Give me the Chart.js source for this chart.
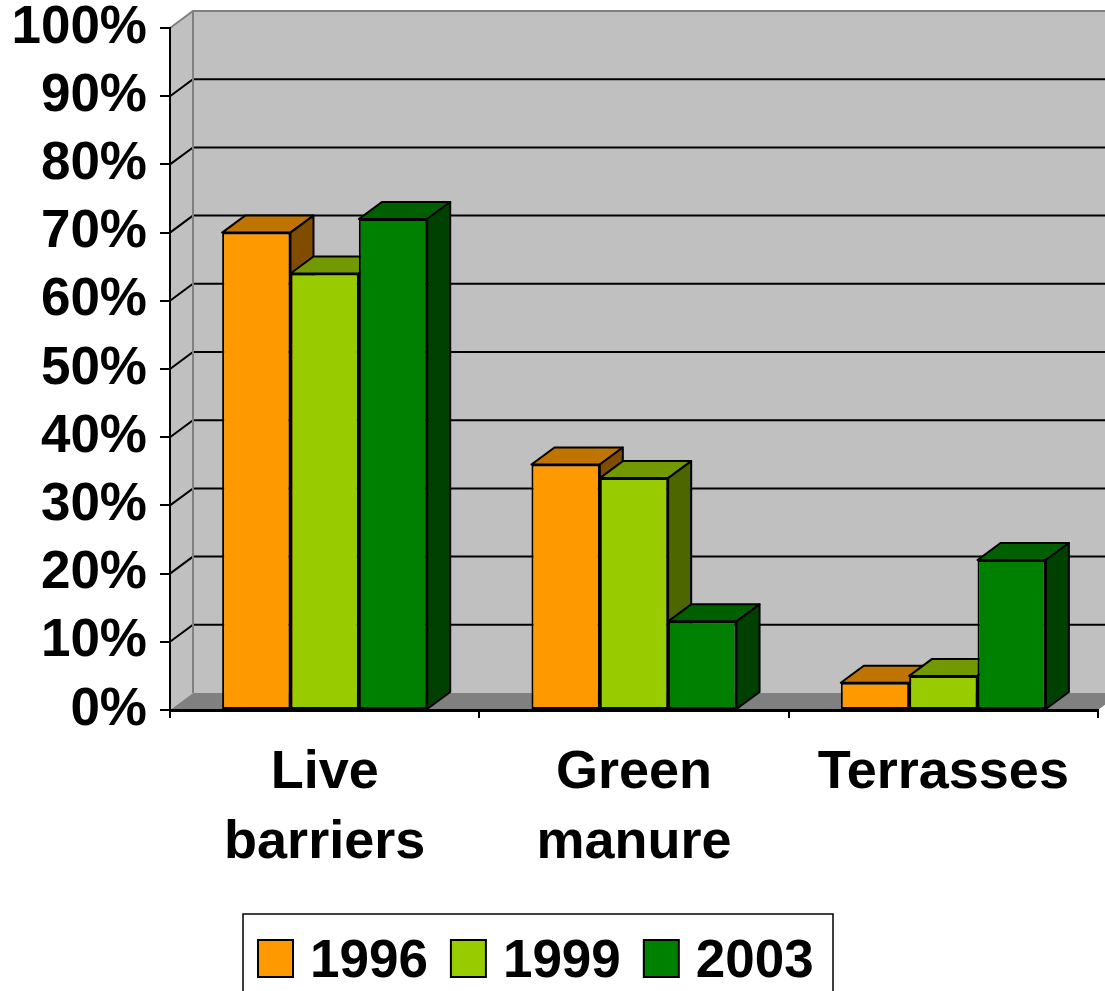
<!DOCTYPE html>
<html lang="en">
<head>
  <meta charset="UTF-8">
  <title>Soil conservation practices</title>
  <script src="https://cdn.jsdelivr.net/npm/chart.js"></script>
  <style>
    html, body { margin: 0; padding: 0; background: #fff; }
  </style>
</head>
<body>
  <canvas id="myChart" width="1105" height="991"></canvas>

  <script>
    // data
    const categories = [['Live', 'barriers'], ['Green', 'manure'], 'Terrasses'];
    const years = ['1996', '1999', '2003'];
    const values1996 = [70, 36, 4];
    const values1999 = [64, 34, 5];
    const values2003 = [72, 13, 22];

    // colours: front, top, side
    const frontColors = ['#ff9900', '#99cc00', '#008000'];
    const topColors = ['#bf7300', '#739900', '#006000'];
    const sideColors = ['#804d00', '#4d6600', '#004000'];

    const DX = 23, DY = -17;   // depth offset of the 3d box
    const FONT = 'Arial, "Liberation Sans", sans-serif';

    function poly(ctx, pts, fill, stroke, lw) {
      ctx.beginPath();
      ctx.moveTo(pts[0][0], pts[0][1]);
      for (let i = 1; i < pts.length; i++) ctx.lineTo(pts[i][0], pts[i][1]);
      ctx.closePath();
      if (fill) { ctx.fillStyle = fill; ctx.fill(); }
      if (stroke) { ctx.strokeStyle = stroke; ctx.lineWidth = lw || 1; ctx.stroke(); }
    }

    // walls, floor and gridlines behind everything
    const walls3d = {
      id: 'walls3d',
      beforeDraw(chart) {
        const { ctx, chartArea: a, scales: { y } } = chart;
        const y0 = y.getPixelForValue(0);
        const y1 = y.getPixelForValue(100);
        ctx.save();
        // back wall
        poly(ctx, [[a.left + DX, y1 + DY], [a.right + DX, y1 + DY], [a.right + DX, y0 + DY], [a.left + DX, y0 + DY]], '#c0c0c0');
        // left wall
        poly(ctx, [[a.left, y1], [a.left + DX, y1 + DY], [a.left + DX, y0 + DY], [a.left, y0]], '#c0c0c0');
        // floor
        poly(ctx, [[a.left, y0], [a.left + DX, y0 + DY], [a.right + DX, y0 + DY], [a.right, y0]], '#808080');

        // gridlines
        ctx.strokeStyle = '#000';
        ctx.lineWidth = 2;
        y.ticks.forEach(t => {
          if (t.value <= 0 || t.value >= 100) return;
          const py = y.getPixelForValue(t.value);
          ctx.beginPath();
          ctx.moveTo(a.left, py);
          ctx.lineTo(a.left + DX, py + DY);
          ctx.lineTo(a.right + DX, py + DY);
          ctx.stroke();
        });

        // wall edges
        ctx.strokeStyle = '#808080';
        ctx.lineWidth = 2;
        ctx.beginPath();
        ctx.moveTo(a.left, y1);
        ctx.lineTo(a.left + DX, y1 + DY);
        ctx.lineTo(a.right + DX, y1 + DY);
        ctx.moveTo(a.left + DX, y1 + DY);
        ctx.lineTo(a.left + DX, y0 + DY);
        ctx.stroke();
        ctx.restore();
      },
      // tops and sides of the bars, fronts are drawn by chart.js after this
      beforeDatasetsDraw(chart) {
        const ctx = chart.ctx;
        const metas = chart.getSortedVisibleDatasetMetas();
        ctx.save();
        ctx.lineJoin = 'round';
        for (let i = 0; i < categories.length; i++) {
          metas.forEach((meta, d) => {
            const p = meta.data[i].getProps(['x', 'y', 'base', 'width'], true);
            const l = p.x - p.width / 2, r = p.x + p.width / 2;
            poly(ctx, [[l, p.y], [l + DX, p.y + DY], [r + DX, p.y + DY], [r, p.y]], topColors[d], '#000', 2);
            poly(ctx, [[r, p.y], [r + DX, p.y + DY], [r + DX, p.base + DY], [r, p.base]], sideColors[d], '#000', 2);
          });
        }
        ctx.restore();
      },
      // legend in a frame, drawn by hand so the spacing matches
      afterDraw(chart) {
        const ctx = chart.ctx;
        ctx.save();
        ctx.strokeStyle = '#000';
        ctx.lineWidth = 1.5;
        ctx.strokeRect(243, 914, 590, 120);
        ctx.font = 'bold 53px ' + FONT;
        ctx.textBaseline = 'alphabetic';
        ctx.textAlign = 'left';
        let sx = 258;
        chart.data.datasets.forEach((ds, i) => {
          ctx.fillStyle = ds.backgroundColor;
          ctx.fillRect(sx, 940, 35, 37);
          ctx.lineWidth = 2;
          ctx.strokeRect(sx, 940, 35, 37);
          ctx.fillStyle = '#000';
          ctx.fillText(ds.label, sx + 52, 977);
          sx += 52 + ctx.measureText(ds.label).width + 23;
        });
        ctx.restore();
      }
    };

    const ctx = document.getElementById('myChart').getContext('2d');
    new Chart(ctx, {
      type: 'bar',
      data: {
        labels: categories,
        datasets: [
          { label: years[0], data: values1996 },
          { label: years[1], data: values1999 },
          { label: years[2], data: values2003 }
        ].map((ds, i) => Object.assign(ds, {
          backgroundColor: frontColors[i],
          borderColor: '#000',
          borderWidth: 2,
          borderSkipped: false,
          barPercentage: 1,
          categoryPercentage: 0.663
        }))
      },
      options: {
        responsive: false,
        animation: false,
        devicePixelRatio: 1,
        layout: { padding: { left: 0, right: 7, top: 28, bottom: 78 } },
        scales: {
          x: {
            grid: { offset: true, drawOnChartArea: false, tickLength: 8, color: '#000', lineWidth: 2 },
            border: { display: true, color: '#000', width: 3 },
            ticks: {
              color: '#000',
              padding: 20,
              maxRotation: 0,
              autoSkip: false,
              font: { family: FONT, size: 54, weight: 'bold', lineHeight: 1.3 }
            },
            afterFit(scale) {
              scale.height = 203;
              scale.paddingLeft = 0;
              scale.paddingRight = 0;
            }
          },
          y: {
            min: 0,
            max: 100,
            grid: { drawOnChartArea: false, tickLength: 10, color: '#000', lineWidth: 2 },
            border: { display: true, color: '#000', width: 2 },
            ticks: {
              stepSize: 10,
              color: '#000',
              padding: 13,
              font: { family: FONT, size: 53, weight: 'bold', lineHeight: 1.2 },
              callback: v => v + '%'
            },
            afterFit(scale) {
              scale.width = 170;
              scale.paddingTop = 0;
              scale.paddingBottom = 0;
            }
          }
        },
        plugins: {
          legend: { display: false },
          tooltip: { enabled: false }
        }
      },
      plugins: [walls3d]
    });
  </script>
</body>
</html>
